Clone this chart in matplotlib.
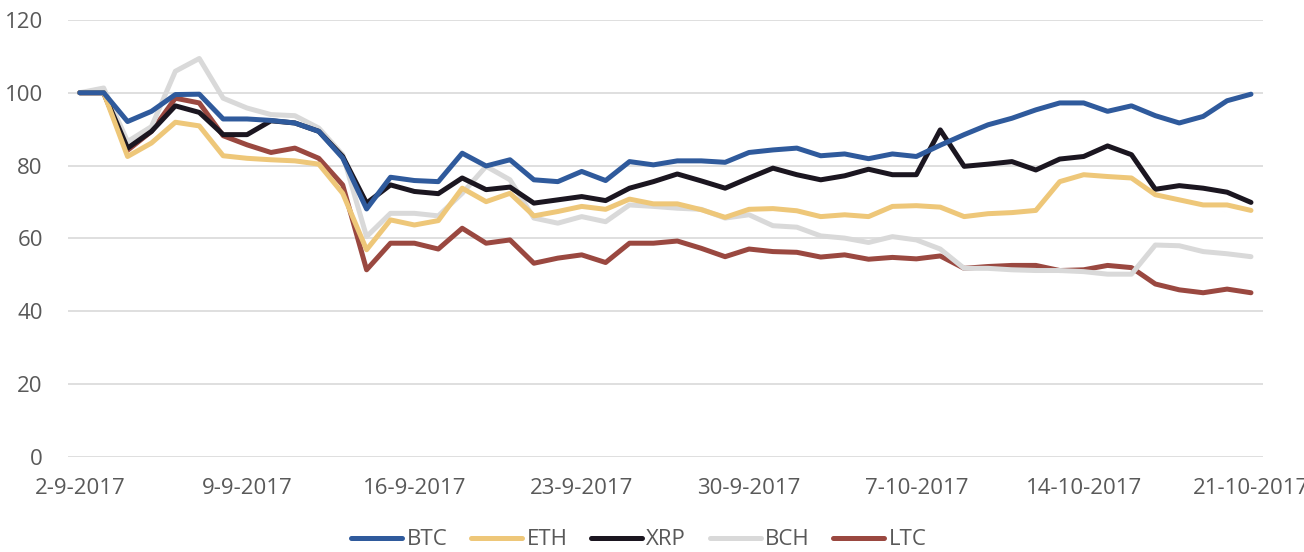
import numpy as np
import pandas as pd
import matplotlib
matplotlib.use("Agg")
import matplotlib.pyplot as plt

# daily index values, 2-9-2017 .. 21-10-2017 (base = 100)
dates = pd.date_range("2017-09-02", "2017-10-21", freq="D")

btc = [100, 100, 92.1, 94.9, 99.5, 99.6, 92.8, 92.8, 92.4, 91.7,
       89.4, 82.1, 68.1, 76.8, 75.9, 75.6, 83.4, 79.9, 81.6, 76.1,
       75.6, 78.4, 75.9, 81.1, 80.2, 81.3, 81.3, 80.9, 83.6, 84.3,
       84.8, 82.7, 83.2, 81.9, 83.2, 82.5, 85.6, 88.5, 91.2, 93.0,
       95.3, 97.2, 97.2, 94.9, 96.4, 93.7, 91.7, 93.5, 97.8, 99.6]
eth = [100, 100, 82.5, 86.2, 91.9, 90.9, 82.7, 82.0, 81.6, 81.3,
       80.4, 72.4, 56.9, 65.1, 63.7, 64.9, 73.8, 70.1, 72.4, 66.2,
       67.4, 68.8, 68.0, 70.8, 69.5, 69.5, 67.9, 65.8, 68.0, 68.2,
       67.6, 66.0, 66.5, 66.0, 68.8, 69.0, 68.6, 66.0, 66.8, 67.1,
       67.7, 75.6, 77.5, 77.0, 76.6, 72.0, 70.6, 69.2, 69.2, 67.7]
xrp = [100, 100, 84.8, 89.4, 96.4, 94.6, 88.5, 88.5, 92.3, 91.7,
       89.4, 82.5, 69.7, 74.7, 72.9, 72.3, 76.6, 73.4, 74.1, 69.7,
       70.6, 71.5, 70.4, 73.8, 75.6, 77.7, 75.8, 73.8, 76.6, 79.3,
       77.5, 76.1, 77.2, 79.0, 77.5, 77.5, 89.8, 79.8, 80.4, 81.1,
       78.8, 81.8, 82.5, 85.4, 83.0, 73.5, 74.5, 73.8, 72.7, 69.9]
bch = [100, 101.3, 86.6, 90.7, 105.9, 109.4, 98.5, 95.8, 94.0, 93.7,
       90.3, 83.0, 60.5, 66.9, 66.9, 66.2, 72.4, 79.8, 76.1, 65.6,
       64.2, 66.0, 64.6, 69.2, 68.8, 68.3, 68.0, 65.6, 66.5, 63.5,
       63.1, 60.7, 60.1, 58.9, 60.5, 59.6, 57.1, 51.8, 51.8, 51.4,
       51.2, 51.2, 50.9, 50.2, 50.2, 58.2, 58.0, 56.4, 55.8, 55.0]
ltc = [100, 100, 84.2, 89.4, 98.5, 97.2, 88.2, 85.7, 83.6, 84.8,
       82.0, 74.7, 51.4, 58.7, 58.7, 57.1, 62.8, 58.7, 59.6, 53.2,
       54.6, 55.5, 53.4, 58.7, 58.7, 59.3, 57.3, 55.0, 57.1, 56.4,
       56.2, 54.9, 55.5, 54.3, 54.8, 54.4, 55.2, 51.8, 52.3, 52.6,
       52.6, 51.2, 51.4, 52.6, 52.0, 47.5, 45.9, 45.1, 46.1, 45.1]

names = ["BTC", "ETH", "XRP", "BCH", "LTC"]
colors = ["#2F5A9C", "#EEC779", "#1B1620", "#D9D9D9", "#9A4840"]

plt.rcParams["font.family"] = ["Open Sans", "DejaVu Sans"]

fig = plt.figure(figsize=(13.04, 5.52), dpi=100)
ax = fig.add_axes([0.052, 0.172, 0.9165, 0.792])

x = np.arange(len(dates))
# draw in reverse so BTC ends up on top
for vals, name, c in reversed(list(zip([btc, eth, xrp, bch, ltc], names, colors))):
    ax.plot(x, vals, color=c, lw=3.6, label=name, solid_capstyle="round",
            solid_joinstyle="round")

ax.set_xlim(-0.5, len(dates) - 0.5)
ax.set_ylim(0, 120)
ax.set_yticks(range(0, 121, 20))
ax.set_xticks(x[::7])
ax.set_xticklabels([f"{d.day}-{d.month}-{d.year}" for d in dates[::7]])

ax.grid(axis="y", color="#D9D9D9", lw=1.2)
ax.set_axisbelow(True)
for s in ["top", "right", "left", "bottom"]:
    ax.spines[s].set_visible(False)
ax.tick_params(length=0, labelsize=16, colors="#595959")
ax.tick_params(axis="y", pad=18)
ax.tick_params(axis="x", pad=15)

h, l = ax.get_legend_handles_labels()
fig.legend(h[::-1], l[::-1], loc="center", bbox_to_anchor=(0.49, 0.022),
           ncol=5, frameon=False, fontsize=16, handlelength=2.3,
           handletextpad=0.2, columnspacing=1.05, labelcolor="#595959")

fig.savefig("out.png", dpi=100)
